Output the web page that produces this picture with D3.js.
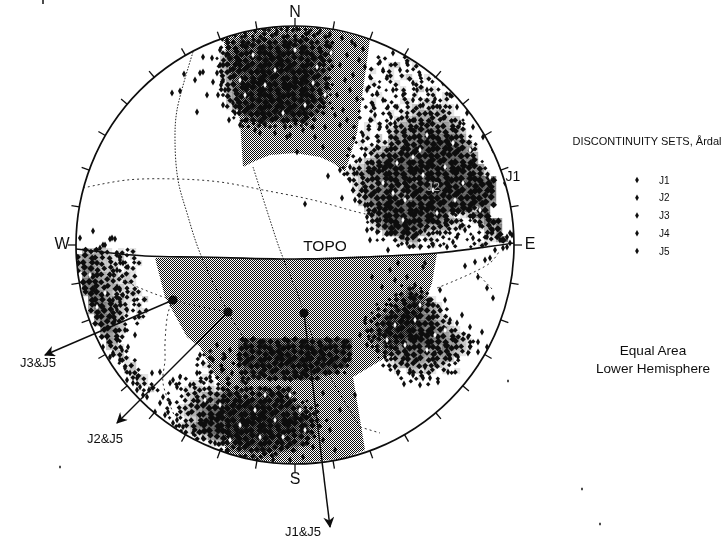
<!DOCTYPE html>
<html><head><meta charset="utf-8">
<script src="https://d3js.org/d3.v7.min.js"></script>
<style>html,body{margin:0;background:#fff}svg{display:block}text{font-family:"Liberation Sans",Arial,sans-serif;fill:#111}</style>
</head><body><div id="c"></div>
<script>
// positions read from the net: [east, north], net radius = 219
const J1=[[-92,188],[-83,187],[-95,172],[-100,165],[-92,173],[-82,163],[-123,152],[-115,154],[-88,150],[-98,133],[-111,171],[-75,180],[-72,165],[-70,155],[-62,142],[-60,132],[-75,195],[-68,205],[-60,210],[-50,212],[-40,214],[-30,216],[-18,214],[-8,215],[2,216],[14,213],[25,214],[35,211],[47,207],[57,203],[68,196],[-78,172],[-77,150],[-72,140],[-66,125],[-55,120],[-40,115],[-20,112],[-5,110],[8,115],[20,108],[30,118],[45,120],[52,125],[-48,125],[-30,120],[-10,118],[-8,108],[28,98],[2,93],[-35,112],[18,118],[60,200],[64,185],[58,170],[55,155],[62,146],[48,135],[42,150],[70,178],[-69,190],[-74,160],[-65,175],[-58,185],[52,190],[45,180],[50,165],[40,130]];
const J2=[[85,183],[98,192],[112,182],[92,168],[75,168],[72,155],[82,152],[118,162],[132,155],[148,162],[162,138],[172,132],[102,138],[93,138],[75,125],[85,118],[68,110],[82,98],[92,118],[112,128],[72,15],[82,13],[92,12],[93,-5],[112,2],[125,-2],[138,0],[152,-2],[162,8],[178,7],[192,8],[198,15],[178,28],[205,5],[212,-2],[215,12],[165,18],[145,12],[118,8],[55,65],[62,72],[55,78],[45,75],[58,55],[67,55],[72,28],[47,47],[33,69],[10,41],[105,175],[125,170],[140,146],[155,150],[128,140],[118,145],[108,150],[98,155],[88,145],[78,140],[150,128],[165,122],[178,118],[188,108],[198,95],[205,80],[210,62],[215,48],[100,122],[110,115],[120,125],[135,132],[70,90],[78,82],[65,85],[88,75],[60,45],[70,40],[80,35],[85,25],[100,20],[110,22],[130,15],[150,22],[170,15],[185,20],[108,8],[75,5],[158,3],[88,175],[140,170],[80,130],[96,128],[122,155],[145,138]];
const J3=[[-172,-18],[-167,-22],[-175,-15],[-178,-42],[-175,-45],[-182,-55],[-175,-57],[-168,-65],[-170,-85],[-160,-90],[-167,-102],[-173,-105],[-182,-108],[-175,-115],[-170,-123],[-165,-128],[-158,-133],[-155,-142],[-162,-138],[-168,-135],[-143,-128],[-135,-127],[-148,-152],[-140,-167],[-185,-112],[-192,-102],[-188,-92],[-183,7],[-202,14],[-192,0],[-195,-3],[-215,7],[-185,6],[-180,6],[-190,0],[-175,-12],[-178,-25],[-185,-30],[-172,-50],[-178,-65],[-180,-75],[-178,-95],[-152,-150],[-158,-145],[-146,-145],[-135,-158],[-130,-170],[-122,-178]];
const J4=[[-95,-110],[-92,-118],[-82,-115],[-73,-125],[-63,-128],[-85,-132],[-98,-128],[-115,-132],[-122,-135],[-125,-138],[-132,-152],[-125,-158],[-127,-167],[-118,-175],[-112,-182],[-102,-188],[-92,-193],[-80,-198],[-68,-207],[-55,-212],[-38,-215],[-22,-215],[-5,-215],[8,-212],[-13,-202],[18,-202],[28,-148],[60,-150],[45,-165],[35,-185],[28,-195],[40,-205],[15,-170],[-118,-142],[-105,-140],[-65,-105],[-50,-100],[-78,-100],[-70,-112]];
const J5=[[150,-55],[145,-65],[155,-75],[167,-70],[162,-78],[175,-82],[187,-87],[173,-92],[183,-97],[192,-102],[175,-102],[183,-107],[173,-108],[163,-112],[155,-113],[153,-127],[143,-137],[135,-133],[125,-140],[128,-133],[109,-139],[103,-128],[115,-125],[118,-130],[100,-122],[107,-117],[130,-18],[128,-22],[103,-18],[95,-25],[77,-32],[87,-42],[145,-45],[170,-21],[180,-17],[190,-15],[195,-13],[183,-32],[192,-43],[198,-53],[200,-5],[207,5],[212,8],[215,2],[217,10],[208,-3],[70,-75],[65,-90],[72,-100],[82,-105],[90,-112],[135,-55],[120,-40],[100,-35],[112,-32],[140,-118],[130,-122],[160,-95],[150,-100],[140,-108]];
// pole density: [row, first column, level 0-9 per cell]
const density=[[0,31,"2323342323"],[1,27,"3435445454454343"],[2,24,"2456656676776766554"],[3,24,"3667777888887877665"],[4,24,"4677778889888887765"],[5,23,"25778888999998888765"],[6,23,"36778889999998888654"],[7,24,"5678889999999988764"],[8,24,"5677889999999998863"],[9,24,"4677899999999998762"],[10,24,"4678899999999998762"],[11,24,"3678899999999998652"],[12,25,"578899999999998752"],[13,25,"468899999999987542"],[14,26,"3688999999998754"],[15,26,"23578887888764"],[16,27,"2334433434233"],
[5,50,"33003400"],[6,49,"030450340"],[7,49,"4034003330"],[8,49,"30340450340"],[9,48,"042034004303"],[10,48,"40320340350430"],[11,48,"034003304034044"],[12,47,"2040330440454340"],[13,47,"0340304045545544"],[14,47,"20303404456656540"],[15,47,"304030455666656552"],[16,46,"3040404566677767653"],[17,47,"340305677788877765"],[18,46,"30405067778899888763"],[19,46,"2403446778899999887630"],[20,45,"3034456778899999998874"],[21,45,"2303567889999999999876"],[22,45,"03456788999999999998872"],[23,44,"2045678999999999999998873"],[24,44,"3456788899999999999998874"],[25,45,"3456788999979999999999988"],[26,46,"456788897999999999999998"],[27,46,"457788977999999999999988"],[28,47,"57888987799999999999988"],[29,47,"56889999999999999999987"],[30,48,"578899999999999999588"],[31,48,"368999999999985345889"],[32,48,"25789999999987653246887"],[33,49,"4689999986666445304668"],[34,50,"358888765444330203557"],[35,50,"2304567344332102034468"],[36,51,"003345334320302344"],
[37,1,"6565434340"],[38,0,"6776554534"],[39,0,"67765544334"],[40,0,"6886555344"],[41,1,"787655454"],[42,1,"8876654540"],[43,1,"8876665440"],[44,1,"68876544540"],[45,2,"8876654435"],[46,2,"7887654340"],[47,2,"6887654344"],[48,3,"788653343"],[49,3,"68765303"],[50,4,"787530"],[51,4,"67640"],[52,5,"7630"],[53,5,"5540"],[54,6,"553"],[55,7,"5430"],[56,7,"2450"],[57,8,"4530"],[58,9,"4540"],[59,10,"4430"],[60,11,"3530"],
[52,27,"6777777777777777776"],[53,27,"7888888888888888887"],[54,27,"7888899998899888887"],[55,27,"7888889999998888886"],[56,27,"6888888888888888874"],[57,27,"577778888888888763"],[58,28,"5666777787765"],
[54,21,"2303"],[55,20,"304030"],[56,20,"3430403"],[57,19,"0304050"],[58,17,"23034030405"],[59,16,"3304434304044"],[60,16,"03445454545464565656"],[61,15,"2034556677775667787773"],[62,15,"3304567788888888888874320"],[63,15,"30456788999999999888875432"],[64,16,"3456789999999999998876543"],[65,15,"203456899999999999999887643"],[66,16,"3456899999999999999988764"],[67,17,"34578999999999998888765"],[68,19,"345778899999998887764"],[69,22,"45667888888777765"],[70,24,"3556767776655"],[71,27,"3454544"],
[43,54,"2432"],[44,53,"346543"],[45,52,"34677654"],[46,50,"23456788764"],[47,49,"2345678887653"],[48,48,"23567889988754"],[49,48,"345788999988654"],[50,48,"4567899999887654"],[51,48,"3567889999987765430"],[52,48,"2456788899988776543"],[53,49,"34567888887787654"],[54,50,"3567788877776542"],[55,50,"134667776666530"],[56,51,"34566665554330"],[57,52,"3404545404340"],[58,54,"30340030"],[59,55,"3003"]];
const grayTop=[[-72,207],[-36,216],[0,219],[36,216],[75,206],[62,112],[55,88],[50,73],[38,82],[25,88],[0,92],[-25,90],[-40,84],[-52,78],[-55,125]];
const grayLow=[[-140,-13],[-100,-12],[-50,-14],[0,-14],[50,-12],[100,-10],[142,-8],[137,-38],[120,-85],[95,-110],[58,-132],[70,-205],[50,-213],[0,-219],[-40,-215],[-70,-207],[-70,-150],[-95,-102],[-108,-92],[-130,-52]];
const specks=[[102,82],[138,55],[185,35],[142,32],[98,52],[158,102],[118,88],[128,70],[168,62],[-30,160],[10,140],[-50,150],[30,150],[-90,-155],[-40,-165],[-20,-175],[-5,-150],[10,-185],[120,-75],[110,-100],[140,-90],[125,-60],[-42,190],[-20,175],[0,195],[22,178],[-55,165],[-12,132],[18,162],[36,192],[88,62],[110,45],[125,95],[150,78],[175,95],[195,68],[160,45],[108,25],[132,110],[-75,-160],[-55,-180],[-30,-150],[-12,-192],[5,-165],[-65,-195],[-35,-192],[100,-80],[132,-105],[150,-85],[92,-95],[-205,-30],[-198,-62],[-190,-48]];
const topo=[[-219,-4],[-150,-11],[-95,-12],[0,-14],[70,-12],[142,-8],[198,-1],[219,2]];
const gc1=[[-102,193],[-118,135],[-120,105],[-117,65],[-108,32],[-95,-8],[-67,-67],[-48,-98]];
const gc2=[[-42,78],[-25,25],[-15,-5],[5,-55],[9,-68],[28,-118],[65,-182]];
const gc3=[[-212,57],[-168,65],[-118,66],[-75,63],[-32,55],[18,45],[62,33],[75,30]];
const gc4=[[-185,-28],[-162,-40],[-122,-55],[-67,-67]];
const gc5=[[-122,-55],[-127,-68],[-130,-98],[-130,-115],[-132,-138],[-120,-172]];
const gc6=[[142,-43],[195,-18],[205,-5]];
const gc7=[[182,-28],[198,-45]];
const gc8=[[65,-182],[85,-188]];
const pivots=[[-122,-55],[-67,-67],[9,-68]];
const arrowEnds=[[-250,-110],[-178,-178],[35,-282]];
const arrowNames=["J3&J5","J2&J5","J1&J5"];
const arrowLabelAt=[[-257,-122],[-190,-198],[8,-291]];
const tickAngles=d3.range(0,360,10);
const compass=[["N",0,232],["S",0,-235],["W",-233,0],["E",235,0]];
const legendNames=["J1","J2","J3","J4","J5"];
const legendTitle="DISCONTINUITY SETS, Årdal";
const footer=["Equal Area","Lower Hemisphere"];
const strays=[[-235,-222],[213,-136],[287,-244],[305,-279]];

const W=721,H=541,R=219,cx=295,cy=245,nCells=73;
const X=d3.scaleLinear().domain([-R,R]).range([cx-R,cx+R]);
const Y=d3.scaleLinear().domain([-R,R]).range([cy+R,cy-R]);
const CX=d3.scaleLinear().domain([0,nCells]).range([cx-R,cx+R]);
const CY=d3.scaleLinear().domain([0,nCells]).range([cy-R,cy+R]);
const svg=d3.select("#c").append("svg").attr("width",W).attr("height",H);
const defs=svg.append("defs");
defs.append("filter").attr("id","scan").attr("x","-5%").attr("y","-5%").attr("width","110%").attr("height","110%").append("feGaussianBlur").attr("stdDeviation",0.5);
defs.append("clipPath").attr("id","net").append("circle").attr("cx",X(0)).attr("cy",Y(0)).attr("r",R);
const pat=defs.append("pattern").attr("id","gray").attr("width",2).attr("height",2).attr("patternUnits","userSpaceOnUse");
pat.append("rect").attr("width",2).attr("height",2).attr("fill","#fff");
[[0,0],[1,1]].forEach(c=>pat.append("rect").attr("x",c[0]).attr("y",c[1]).attr("width",1).attr("height",1).attr("fill","#0c0c0c"));
const ln=c=>d3.line().x(d=>X(d[0])).y(d=>Y(d[1])).curve(c);
const root=svg.append("g").attr("filter","url(#scan)");
const g=root.append("g").attr("clip-path","url(#net)");
g.append("path").attr("d",ln(d3.curveLinear)(grayTop)+"Z").attr("fill","url(#gray)");
g.append("path").attr("d",ln(d3.curveLinear)(grayLow)+"Z").attr("fill","url(#gray)");
const cells=density.flatMap(([r,c0,s])=>Array.from(s,(ch,i)=>({r,c:c0+i,v:+ch})).filter(d=>d.v>0));
const area=d3.scaleLinear().domain([0,9]).range([0,30]);
const tone=d3.scaleLinear().domain([3,9]).range([0,0.62]).clamp(true);
const grain=d=>((d.c*d.c*7+d.r*d.r*13+d.c*d.r*3+d.r)%7-3)*0.6;
const grain2=d=>((d.c*d.c*11+d.r*d.r*5+d.c*d.r*2+d.c)%7-3)*0.6;
g.append("g").selectAll("rect").data(cells.filter(d=>d.v>3)).join("rect")
 .attr("x",d=>CX(d.c)).attr("y",d=>CY(d.r)).attr("width",CX(1)-CX(0)+0.2).attr("height",CY(1)-CY(0)+0.2)
 .attr("fill","#111").attr("fill-opacity",d=>tone(d.v));
g.append("g").selectAll("path").data(cells).join("path")
 .attr("d",d=>d3.symbol().type(d3.symbolSquare).size(area(d.v))())
 .attr("fill","#111")
 .attr("transform",d=>`translate(${CX(d.c+0.5)+grain(d)},${CY(d.r+0.5)+grain2(d)}) rotate(45)`);
[gc1,gc2].forEach(c=>g.append("path").attr("d",ln(d3.curveCatmullRom)(c)).attr("fill","none").attr("stroke","#222").attr("stroke-width",1).attr("stroke-dasharray","1.5,1.5"));
[gc3,gc4,gc5,gc6,gc7,gc8].forEach(c=>g.append("path").attr("d",ln(d3.curveCatmullRom)(c)).attr("fill","none").attr("stroke","#333").attr("stroke-width",1).attr("stroke-dasharray","2,3"));
const sym=d3.symbol().type(d3.symbolDiamond).size(14);
g.append("g").selectAll("path").data(specks).join("path").attr("d",d3.symbol().type(d3.symbolDiamond).size(10)).attr("fill","#fff").attr("transform",d=>`translate(${X(d[0])},${Y(d[1])})`);
[J1,J2,J3,J4,J5].forEach(s=>g.append("g").selectAll("path").data(s).join("path").attr("d",sym).attr("fill","#111").attr("transform",d=>`translate(${X(d[0])},${Y(d[1])})`));
g.append("path").attr("d",ln(d3.curveCatmullRom)(topo)).attr("fill","none").attr("stroke","#111").attr("stroke-width",1.7);
root.append("circle").attr("cx",X(0)).attr("cy",Y(0)).attr("r",R).attr("fill","none").attr("stroke","#111").attr("stroke-width",1.7);
root.append("g").selectAll("line").data(tickAngles).join("line")
 .attr("x1",a=>X(R*Math.sin(a*Math.PI/180))).attr("y1",a=>Y(R*Math.cos(a*Math.PI/180)))
 .attr("x2",a=>X((R+8)*Math.sin(a*Math.PI/180))).attr("y2",a=>Y((R+8)*Math.cos(a*Math.PI/180)))
 .attr("stroke","#111").attr("stroke-width",1.3);
defs.append("marker").attr("id","ah").attr("viewBox","0 0 10 10").attr("refX",9).attr("refY",5).attr("markerWidth",13).attr("markerHeight",11).attr("orient","auto").attr("markerUnits","userSpaceOnUse")
 .append("path").attr("d","M0,0L10,5L0,10L3,5Z").attr("fill","#111");
pivots.forEach((p,i)=>{
 root.append("line").attr("x1",X(p[0])).attr("y1",Y(p[1])).attr("x2",X(arrowEnds[i][0])).attr("y2",Y(arrowEnds[i][1])).attr("stroke","#111").attr("stroke-width",1.5).attr("marker-end","url(#ah)");
 root.append("circle").attr("cx",X(p[0])).attr("cy",Y(p[1])).attr("r",4.6).attr("fill","#111");
 root.append("text").attr("x",X(arrowLabelAt[i][0])).attr("y",Y(arrowLabelAt[i][1])).attr("text-anchor","middle").attr("font-size",13).text(arrowNames[i]);
});
compass.forEach(c=>root.append("text").attr("x",X(c[1])).attr("y",Y(c[2])).attr("text-anchor","middle").attr("dominant-baseline","middle").attr("font-size",16).text(c[0]));
root.append("text").attr("x",X(30)).attr("y",Y(-2)).attr("text-anchor","middle").attr("dominant-baseline","middle").attr("font-size",15.5).text("TOPO");
root.append("text").attr("x",X(218)).attr("y",Y(68)).attr("text-anchor","middle").attr("dominant-baseline","middle").attr("font-size",14).text("J1");
root.append("text").attr("x",X(138)).attr("y",Y(57)).attr("text-anchor","middle").attr("dominant-baseline","middle").attr("font-size",13).attr("style","fill:#aaa").text("J2");
root.append("g").selectAll("path").data(strays).join("path").attr("d",d3.symbol().type(d3.symbolDiamond).size(4)).attr("fill","#111").attr("transform",d=>`translate(${X(d[0])},${Y(d[1])})`);
root.append("text").attr("x",647).attr("y",145).attr("text-anchor","middle").attr("font-size",11).attr("textLength",149).attr("lengthAdjust","spacingAndGlyphs").text(legendTitle);
const LY=d3.scalePoint().domain(legendNames).range([180,251]);
legendNames.forEach(n=>{
 root.append("path").attr("d",d3.symbol().type(d3.symbolDiamond).size(12)).attr("fill","#111").attr("transform",`translate(637,${LY(n)})`);
 root.append("text").attr("x",659).attr("y",LY(n)+3.5).attr("font-size",10).text(n);
});
footer.forEach((t,i)=>root.append("text").attr("x",653).attr("y",355+i*18).attr("text-anchor","middle").attr("font-size",13.6).text(t));
root.append("line").attr("x1",43).attr("y1",0).attr("x2",43).attr("y2",4).attr("stroke","#111").attr("stroke-width",1.5);
</script></body></html>
